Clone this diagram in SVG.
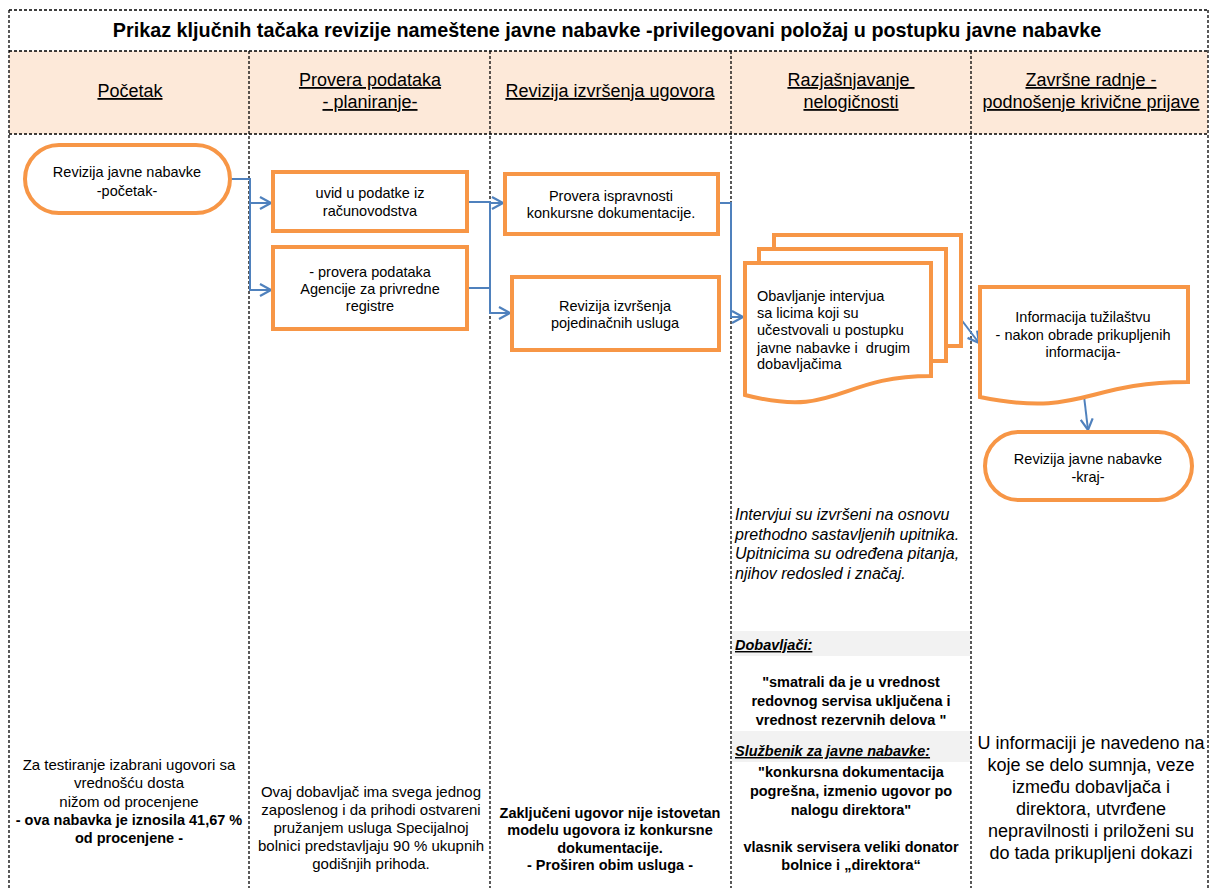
<svg xmlns="http://www.w3.org/2000/svg" width="1210" height="888" viewBox="0 0 1210 888">
<style>
text{font-family:"Liberation Sans",Arial,sans-serif;fill:#000}
.grid{stroke:#000;stroke-width:1.3;stroke-dasharray:3 2;fill:none}
.node{fill:#fff;stroke:#F79646;stroke-width:4}
.conn{fill:none;stroke:#4F81BD;stroke-width:2}
.hd{font-size:18px;text-anchor:middle;text-decoration:underline}
.nt{font-size:14.5px;text-anchor:middle}
.ntl{font-size:14.5px}
.note{font-size:15px;text-anchor:middle}
.bnote{font-size:14.5px;font-weight:bold;text-anchor:middle}
.it{font-size:16px;font-style:italic}
.lbl{font-size:14.5px;font-weight:bold;font-style:italic;text-decoration:underline}
.big{font-size:18px;text-anchor:middle}
</style>
<defs>
<marker id="arr" markerUnits="userSpaceOnUse" markerWidth="16" markerHeight="16" refX="12" refY="7" orient="auto" viewBox="0 0 16 14">
<path d="M1,1 L12,7 L1,13" fill="none" stroke="#4F81BD" stroke-width="2.2"/>
</marker>
</defs>
<rect x="0" y="0" width="1210" height="888" fill="#fff"/>
<g id="table">
<rect x="9" y="51" width="1199" height="83" fill="#FDE9D9"/>
<rect x="732" y="631" width="238" height="25" fill="#F2F2F2"/>
<rect x="732" y="731" width="238" height="31" fill="#F2F2F2"/>
<path class="grid" d="M9,10 H1208 M9,51 H1208 M9,134 H1208 M9,10 V888 M1208,10 V888 M249,51 V888 M490,51 V888 M731,51 V888 M971,51 V888"/>
</g>
<text x="607" y="37" style="font-size:19.8px;font-weight:bold" text-anchor="middle">Prikaz ključnih tačaka revizije nameštene javne nabavke -privilegovani položaj u postupku javne nabavke</text>
<g id="headers">
<text class="hd" x="130" y="97">Početak</text>
<text class="hd" x="370" y="86">Provera podataka</text>
<text class="hd" x="370" y="108">- planiranje-</text>
<text class="hd" x="610" y="97">Revizija izvršenja ugovora</text>
<text class="hd" x="851" y="86">Razjašnjavanje&#160;</text>
<text class="hd" x="851" y="108">nelogičnosti</text>
<text class="hd" x="1091" y="86">Završne radnje -</text>
<text class="hd" x="1091" y="108">podnošenje krivične prijave</text>
</g>
<g id="connectors">
<path class="conn" d="M230,179 H250 V203 H271" marker-end="url(#arr)"/>
<path class="conn" d="M250,203 V290 H271" marker-end="url(#arr)"/>
<path class="conn" d="M467,202 H490 V203 H503" marker-end="url(#arr)"/>
<path class="conn" d="M467,288 H490 V313 H510" marker-end="url(#arr)"/>
<path class="conn" d="M490,203 V290"/>
<path class="conn" d="M718,203 H731 V317 H743" marker-end="url(#arr)"/>
<path class="conn" d="M960,318 L979,343" marker-end="url(#arr)"/>
<path class="conn" d="M1084,396 L1088,430" marker-end="url(#arr)"/>
</g>
<g id="start">
<rect class="node" x="25" y="145" width="205" height="68" rx="34"/>
<text class="nt" x="127" y="177">Revizija javne nabavke</text>
<text class="nt" x="127" y="196">-početak-</text>
</g>
<g id="uvid">
<rect class="node" x="273" y="172" width="194" height="59"/>
<text class="nt" x="370" y="198">uvid u podatke iz</text>
<text class="nt" x="370" y="216">računovodstva</text>
</g>
<g id="agencija">
<rect class="node" x="273" y="247" width="194" height="82"/>
<text class="nt" x="370" y="277">- provera podataka</text>
<text class="nt" x="370" y="294">Agencije za privredne</text>
<text class="nt" x="370" y="311">registre</text>
</g>
<g id="konkursna">
<rect class="node" x="505" y="174" width="213" height="60"/>
<text class="nt" x="611" y="201">Provera ispravnosti</text>
<text class="nt" x="611" y="218">konkursne dokumentacije.</text>
</g>
<g id="usluge">
<rect class="node" x="512" y="277" width="207" height="73"/>
<text class="nt" x="615" y="311">Revizija izvršenja</text>
<text class="nt" x="615" y="328">pojedinačnih usluga</text>
</g>
<g id="intervju">
<rect class="node" x="774" y="235" width="187" height="111"/>
<rect class="node" x="759" y="249" width="187" height="112"/>
<path class="node" d="M745,263 H931 V376 C838,376 838,419 745,395 Z"/>
<text class="ntl" x="757" y="301">Obavljanje intervjua</text>
<text class="ntl" x="757" y="318">sa licima koji su</text>
<text class="ntl" x="757" y="335">učestvovali u postupku</text>
<text class="ntl" x="757" y="353">javne nabavke i&#160; drugim</text>
<text class="ntl" x="757" y="369">dobavljačima</text>
</g>
<g id="tuzilastvo">
<path class="node" d="M980,287 H1188 V382 C1084,382 1084,418 980,397 Z"/>
<text class="nt" x="1083" y="322">Informacija tužilaštvu</text>
<text class="nt" x="1083" y="340">- nakon obrade prikupljenih</text>
<text class="nt" x="1083" y="357">informacija-</text>
</g>
<g id="kraj">
<rect class="node" x="985" y="432" width="207" height="68" rx="34"/>
<text class="nt" x="1088" y="464">Revizija javne nabavke</text>
<text class="nt" x="1088" y="482">-kraj-</text>
</g>
<g id="notes">
<text class="note" x="129" y="770">Za testiranje izabrani ugovori sa</text>
<text class="note" x="129" y="788">vrednošću dosta</text>
<text class="note" x="129" y="807">nižom od procenjene</text>
<text class="bnote" x="129" y="825">- ova nabavka je iznosila 41,67 %</text>
<text class="bnote" x="129" y="843">od procenjene -</text>
<text class="note" x="371" y="797">Ovaj dobavljač ima svega jednog</text>
<text class="note" x="371" y="815">zaposlenog i da prihodi ostvareni</text>
<text class="note" x="371" y="833">pružanjem usluga Specijalnoj</text>
<text class="note" x="371" y="851">bolnici predstavljaju 90 % ukupnih</text>
<text class="note" x="371" y="869">godišnjih prihoda.</text>
<text class="bnote" x="610" y="818">Zaključeni ugovor nije istovetan</text>
<text class="bnote" x="610" y="835">modelu ugovora iz konkursne</text>
<text class="bnote" x="610" y="853">dokumentacije.</text>
<text class="bnote" x="610" y="870">- Proširen obim usluga -</text>
<text class="it" x="735" y="520">Intervjui su izvršeni na osnovu</text>
<text class="it" x="735" y="540">prethodno sastavljenih upitnika.</text>
<text class="it" x="735" y="559">Upitnicima su određena pitanja,</text>
<text class="it" x="735" y="579">njihov redosled i značaj.</text>
<text class="lbl" x="735" y="650">Dobavljači:</text>
<text class="bnote" x="851" y="687">"smatrali da je u vrednost</text>
<text class="bnote" x="851" y="706">redovnog servisa uključena i</text>
<text class="bnote" x="851" y="725">vrednost rezervnih delova "</text>
<text class="lbl" x="735" y="756">Službenik za javne nabavke:</text>
<text class="bnote" x="851" y="777">"konkursna dokumentacija</text>
<text class="bnote" x="851" y="796">pogrešna, izmenio ugovor po</text>
<text class="bnote" x="851" y="815">nalogu direktora"</text>
<text class="bnote" x="851" y="852">vlasnik servisera veliki donator</text>
<text class="bnote" x="851" y="870">bolnice i „direktora“</text>
<text class="big" x="1091" y="749">U informaciji je navedeno na</text>
<text class="big" x="1091" y="771">koje se delo sumnja, veze</text>
<text class="big" x="1091" y="793">između dobavljača i</text>
<text class="big" x="1091" y="815">direktora, utvrđene</text>
<text class="big" x="1091" y="837">nepravilnosti i priloženi su</text>
<text class="big" x="1091" y="859">do tada prikupljeni dokazi</text>
</g>
</svg>
